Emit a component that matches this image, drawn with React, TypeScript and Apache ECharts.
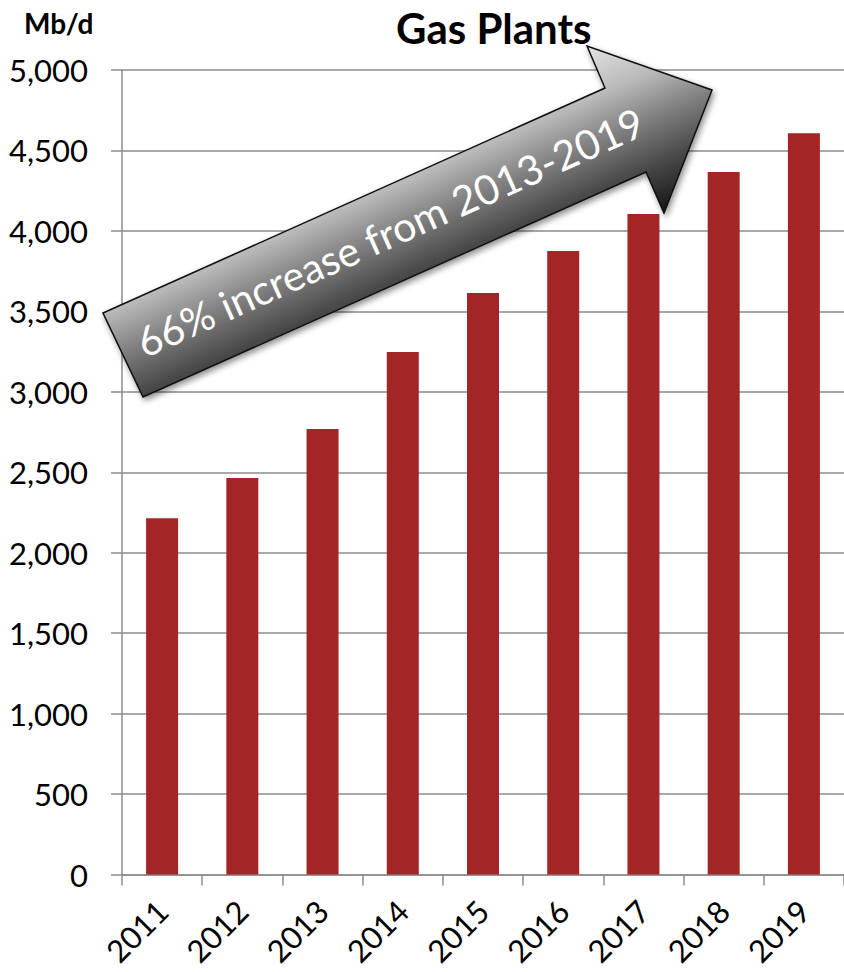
import React, { useEffect, useRef } from "react";
import * as echarts from "echarts";

const categories = ["2011", "2012", "2013", "2014", "2015", "2016", "2017", "2018", "2019"];
const gasPlantsMbd = [2214, 2464, 2769, 3247, 3614, 3875, 4105, 4366, 4607];
const yMin = 0;
const yMax = 5000;
const yStep = 500;
const titleText = "Gas Plants";
const unitText = "Mb/d";
const arrowText = "66% increase from 2013-2019";

const FONT = "Lato, 'Open Sans', sans-serif";

export default function App() {
  const ref = useRef<HTMLDivElement>(null);
  useEffect(() => {
    document.body.style.margin = "0";
    if (!ref.current) return;
    const chart = echarts.init(ref.current, null, { renderer: "svg" });
    chart.setOption({
      animation: false,
      backgroundColor: "#ffffff",
      textStyle: { fontFamily: FONT },
      grid: { left: 122, top: 70, width: 724, height: 804.5, containLabel: false },
      xAxis: {
        type: "category",
        data: categories,
        axisLine: { show: true, lineStyle: { color: "#8c8c8c", width: 1.5 } },
        axisTick: { show: true, length: 11, alignWithLabel: false, lineStyle: { color: "#8c8c8c", width: 1.5 } },
        axisLabel: {
          rotate: 45,
          margin: 31,
          fontSize: 31,
          color: "#000",
          fontFamily: FONT,
        },
        splitLine: { show: false },
      },
      yAxis: {
        type: "value",
        min: yMin,
        max: yMax,
        interval: yStep,
        axisLine: { show: true, lineStyle: { color: "#8c8c8c", width: 1.5 } },
        axisTick: { show: true, length: 11, inside: false, lineStyle: { color: "#8c8c8c", width: 1.5 } },
        axisLabel: {
          margin: 34,
          fontSize: 31,
          color: "#000",
          fontFamily: FONT,
          formatter: (v: number) => v.toLocaleString("en-US"),
        },
        splitLine: { show: true, lineStyle: { color: "#8c8c8c", width: 1.5 } },
      },
      series: [
        {
          type: "bar",
          data: gasPlantsMbd,
          barWidth: 32,
          itemStyle: { color: "#A32525" },
        },
      ],
      graphic: [
        {
          type: "text",
          left: 396,
          top: 7,
          style: { text: titleText, fontSize: 42, fontWeight: "bold", fill: "#000", fontFamily: FONT },
        },
        {
          type: "text",
          left: 24,
          top: 9,
          style: { text: unitText, fontSize: 28, fontWeight: "bold", fill: "#000", fontFamily: FONT },
        },
        {
          type: "polygon",
          shape: {
            points: [
              [103, 313],
              [605, 88],
              [587, 46],
              [712, 90],
              [664, 213],
              [646, 172],
              [143, 397],
            ],
          },
          style: {
            fill: new echarts.graphic.LinearGradient(
              336,
              159,
              410,
              326,
              [
                { offset: 0, color: "#e2e2e2" },
                { offset: 0.27, color: "#b8b8b8" },
                { offset: 0.5, color: "#7e7e7e" },
                { offset: 0.75, color: "#464646" },
                { offset: 1, color: "#151515" },
              ],
              true
            ),
            stroke: "#111",
            lineWidth: 1.5,
            shadowBlur: 6,
            shadowOffsetX: 2,
            shadowOffsetY: 3,
            shadowColor: "rgba(0,0,0,0.45)",
          },
          z: 100,
        },
        {
          type: "text",
          x: 390,
          y: 232,
          rotation: (24.1 * Math.PI) / 180,
          style: {
            text: arrowText,
            fontSize: 41,
            fill: "#ffffff",
            fontFamily: FONT,
            align: "center",
            verticalAlign: "middle",
          },
          z: 101,
        },
      ],
    });
    return () => chart.dispose();
  }, []);
  return <div ref={ref} style={{ width: 844, height: 972 }} />;
}
